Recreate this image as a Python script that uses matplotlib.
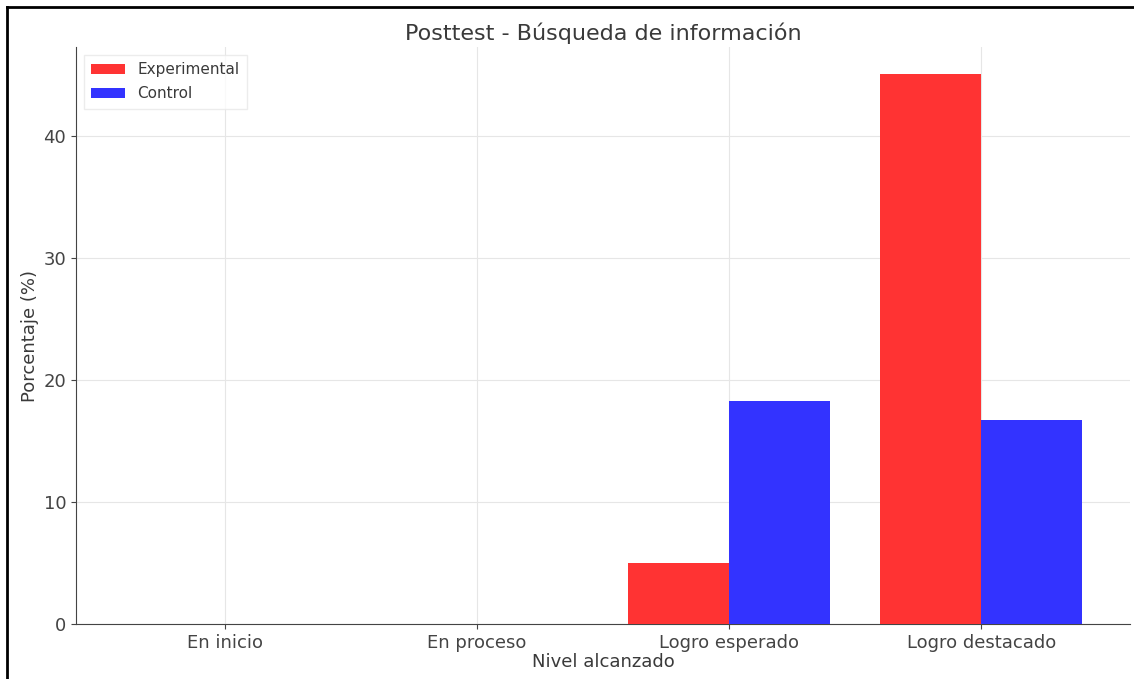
import matplotlib
matplotlib.use("Agg")
import matplotlib.pyplot as plt
import numpy as np
from matplotlib.lines import Line2D

categories = ["En inicio", "En proceso", "Logro esperado", "Logro destacado"]
experimental = [0, 0, 5.0, 45.0]
control = [0, 0, 18.3, 16.7]
series_names = ["Experimental", "Control"]
title = "Posttest - Búsqueda de información"
xlabel = "Nivel alcanzado"
ylabel = "Porcentaje (%)"

plt.rcParams['font.family'] = ['DejaVu Sans']
text_color = '#3a3a3a'

W, H = 1134, 679
fig = plt.figure(figsize=(W / 100, H / 100), dpi=100)
ax = fig.add_axes([76 / W, 55 / H, (1130 - 76) / W, 577 / H])

x = np.arange(len(categories))
width = 0.4
ax.bar(x - width / 2, experimental, width, color='#ff3333', label=series_names[0], zorder=3)
ax.bar(x + width / 2, control, width, color='#3333ff', label=series_names[1], zorder=3)

ax.set_xticks(x)
ax.set_xticklabels(categories, fontsize=13, color=text_color)
ax.set_yticks([0, 10, 20, 30, 40])
ax.tick_params(axis='y', labelsize=13, labelcolor=text_color)
ax.set_title(title, fontsize=16, color=text_color, pad=5)
ax.set_xlabel(xlabel, fontsize=13, color=text_color, labelpad=1)
ax.set_ylabel(ylabel, fontsize=13, color=text_color, labelpad=3)

ax.grid(True, color='#e6e6e6', linewidth=0.8, zorder=0)
ax.set_axisbelow(True)
for s in ['top', 'right']:
    ax.spines[s].set_visible(False)
for s in ['left', 'bottom']:
    ax.spines[s].set_color('#444444')
ax.tick_params(colors='#444444')

ax.set_xlim(-0.59, 3.59)
ax.set_ylim(0, 47.25)

leg = ax.legend(loc='upper left', fontsize=11, frameon=True, fancybox=False,
                edgecolor='#e8e8e8', handlelength=2.2, borderpad=0.5,
                labelspacing=0.6)
for t in leg.get_texts():
    t.set_color(text_color)

# outer frame (left and top visible in reference)
fig.add_artist(Line2D([7 / W, 7 / W], [0, 1 - 7 / H], transform=fig.transFigure, color='black', linewidth=2))
fig.add_artist(Line2D([7 / W, 1], [1 - 7 / H, 1 - 7 / H], transform=fig.transFigure, color='black', linewidth=2))

fig.savefig("out.png", dpi=100)
